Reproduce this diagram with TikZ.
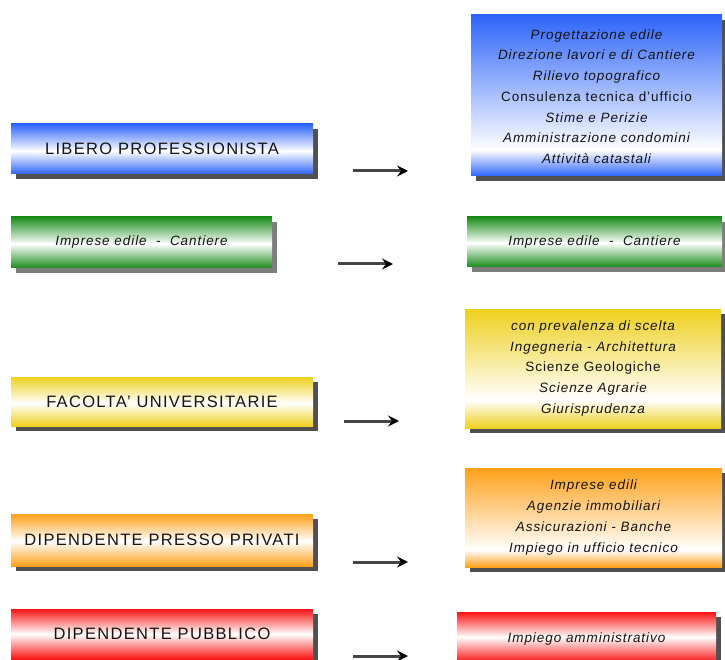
\documentclass[tikz,border=0pt]{standalone}
\usepackage{fontspec}
\setmainfont{Liberation Sans}
\usetikzlibrary{arrows.meta}
\definecolor{cblue}{RGB}{45,100,250}
\definecolor{cgreen}{RGB}{25,140,25}
\definecolor{cyellow}{RGB}{238,208,30}
\definecolor{corange}{RGB}{255,160,25}
\definecolor{cred}{RGB}{250,20,20}
\definecolor{shdark}{RGB}{80,80,80}
\definecolor{shlight}{RGB}{125,125,125}
\definecolor{txt}{RGB}{20,20,20}
\definecolor{arrline}{RGB}{70,70,70}
\newcommand\gbox[8]{% name, x1, y1, x2, y2, white y, colour, shadow colour
  \fill[#8] (#2+5,#3+5) rectangle (#4+5,#5+5);
  \shade[top color=#7, bottom color=white] (#2,#3) rectangle (#4,#6);
  \shade[top color=white, bottom color=#7] (#2,#6) rectangle (#4,#5);
  \node[boxtext] (#1) at ({(#2+#4)/2},{(#3+#5)/2}) {};
}
\tikzset{
  boxtext/.style={inner sep=0pt},
  capslabel/.style={text=txt, font=\fontsize{16.5}{20}\selectfont\addfontfeatures{LetterSpace=8}},
  itlabel/.style={text=txt, align=center, font=\fontsize{13.5}{20.7}\selectfont\itshape\addfontfeatures{LetterSpace=7}},
  arr/.style={draw=arrline, line width=3pt, -{Stealth[length=11pt,width=11pt,inset=4pt,fill=black,color=black]}}
}
\begin{document}
\begin{tikzpicture}[x=1pt,y=-1pt]
\useasboundingbox (0,0) rectangle (725,660);
\clip (0,0) rectangle (725,660);
% left boxes
\gbox{b1}{11}{124}{313}{174}{151}{cblue}{shdark}
\gbox{b2}{11}{217}{272}{268}{244}{cgreen}{shlight}
\gbox{b3}{11}{377}{313}{426}{403}{cyellow}{shdark}
\gbox{b4}{11}{514}{313}{566}{541}{corange}{shdark}
\gbox{b5}{11}{609}{313}{659}{634}{cred}{shdark}
% right boxes
\gbox{r1}{471}{15}{722}{176}{150}{cblue}{shdark}
\gbox{r2}{467}{217}{722}{267}{243}{cgreen}{shlight}
\gbox{r3}{465}{309}{721}{428}{400}{cyellow}{shdark}
\gbox{r4}{465}{468}{722}{567}{550}{corange}{shdark}
\gbox{r5}{457}{612}{716}{662}{637}{cred}{shdark}
% texts
\node[capslabel] (t1) at (b1) {LIBERO PROFESSIONISTA};
\node[itlabel] (t2) at (b2) {Imprese edile \ - \ Cantiere};
\node[capslabel] (t3) at (b3) {FACOLTA' UNIVERSITARIE};
\node[capslabel] (t4) at (b4) {DIPENDENTE PRESSO PRIVATI};
\node[capslabel] (t5) at (b5) {DIPENDENTE PUBBLICO};
\node[itlabel] (u1) at ([yshift=-1]r1) {Progettazione edile\\Direzione lavori e di Cantiere\\Rilievo topografico\\{\upshape Consulenza tecnica d'ufficio}\\Stime e Perizie\\Amministrazione condomini\\Attività catastali};
\node[itlabel] (u2) at (r2) {Imprese edile \ - \ Cantiere};
\node[itlabel] (u3) at (r3) {con prevalenza di scelta\\Ingegneria - Architettura\\{\upshape Scienze Geologiche}\\Scienze Agrarie\\Giurisprudenza};
\node[itlabel] (u4) at (r4) {Imprese edili\\Agenzie immobiliari\\Assicurazioni - Banche\\Impiego in ufficio tecnico};
\node[itlabel] (u5) at ([yshift=-2]r5) {Impiego amministrativo};
% arrows
\coordinate (a1s) at (353,171); \coordinate (a1e) at (408,171);
\coordinate (a2s) at (338,264); \coordinate (a2e) at (393,264);
\coordinate (a3s) at (344,421); \coordinate (a3e) at (399,421);
\coordinate (a4s) at (353,562); \coordinate (a4e) at (408,562);
\coordinate (a5s) at (353,656); \coordinate (a5e) at (408,656);
\draw[arr] (a1s) -- (a1e);
\draw[arr] (a2s) -- (a2e);
\draw[arr] (a3s) -- (a3e);
\draw[arr] (a4s) -- (a4e);
\draw[arr] (a5s) -- (a5e);
\end{tikzpicture}
\end{document}
